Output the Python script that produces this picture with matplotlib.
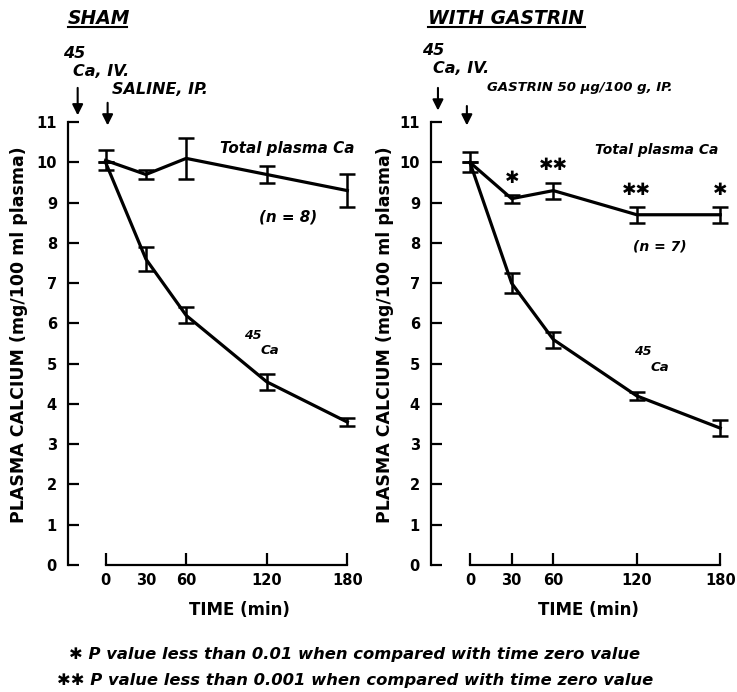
import matplotlib
matplotlib.use('Agg')
import matplotlib.pyplot as plt
from matplotlib.lines import Line2D

# time points (min)
times = [0, 30, 60, 120, 180]

# SHAM panel
sham_total = [10.05, 9.7, 10.1, 9.7, 9.3]
sham_total_err = [0.25, 0.1, 0.5, 0.2, 0.4]
sham_ca45 = [10.0, 7.6, 6.2, 4.55, 3.55]
sham_ca45_err = [0.0, 0.3, 0.2, 0.2, 0.1]

# WITH GASTRIN panel
gas_total = [10.0, 9.1, 9.3, 8.7, 8.7]
gas_total_err = [0.25, 0.1, 0.2, 0.2, 0.2]
gas_ca45 = [10.0, 7.0, 5.6, 4.2, 3.4]
gas_ca45_err = [0.0, 0.25, 0.2, 0.1, 0.2]
gas_stars = ['', '✱', '✱✱', '✱✱', '✱']

yticks = list(range(0, 12))
xtick_labels = ['0', '30', '60', '120', '180']

W, H = 737, 692
fig = plt.figure(figsize=(W / 100, H / 100), dpi=100)
BOLD = dict(fontweight='bold', family='DejaVu Sans')
ITB = dict(fontweight='bold', fontstyle='italic', family='DejaVu Sans')


def px_axes(x0, x1, y_top, y_bot):
    return fig.add_axes([x0 / W, 1 - y_bot / H, (x1 - x0) / W, (y_bot - y_top) / H])


def setup(ax, hide30):
    ax.set_xlim(-28, 182)
    ax.set_ylim(0, 11.6)
    for s in ['top', 'right']:
        ax.spines[s].set_visible(False)
    ax.spines['left'].set_bounds(0, 11)
    ax.spines['bottom'].set_bounds(0, 180)
    ax.spines['left'].set_linewidth(1.6)
    ax.spines['bottom'].set_linewidth(1.6)
    ax.set_yticks(yticks)
    ax.set_yticklabels([str(v) for v in yticks], **BOLD, fontsize=10.5)
    ax.set_xticks(times)
    ax.set_xticklabels(xtick_labels, **BOLD, fontsize=10.5)
    ax.tick_params(axis='y', direction='in', length=8, width=1.6, pad=8)
    ax.tick_params(axis='x', direction='in', length=9, width=1.6, pad=6)
    if hide30:
        ax.xaxis.get_major_ticks()[1].tick1line.set_visible(False)


def series(ax, y, err):
    ax.errorbar(times, y, yerr=err, color='black', lw=2.3, capsize=6,
                capthick=1.8, elinewidth=1.8, clip_on=False)


# left panel
ax1 = px_axes(68, 350, 98, 565)
setup(ax1, True)
series(ax1, sham_total, sham_total_err)
series(ax1, sham_ca45, sham_ca45_err)

# right panel
ax2 = px_axes(431, 723, 98, 565)
setup(ax2, False)
series(ax2, gas_total, gas_total_err)
series(ax2, gas_ca45, gas_ca45_err)
for t, v, e, s in zip(times, gas_total, gas_total_err, gas_stars):
    if s:
        ax2.text(t, v + e + 0.2, s, ha='center', va='bottom', fontsize=12.5, **BOLD)

for cx in [239, 588]:
    fig.text(cx / W, 1 - 610 / H, 'TIME (min)', ha='center', va='center', fontsize=12, **BOLD)

for lx in [19, 385]:
    fig.text(lx / W, 1 - 335 / H, 'PLASMA CALCIUM (mg/100 ml plasma)', rotation=90,
             ha='center', va='center', fontsize=12.5, **BOLD)

# panel titles with underline
for x0, x1, t in [(68, 127, 'SHAM'), (428, 585, 'WITH GASTRIN')]:
    fig.text(x0 / W, 1 - 18 / H, t, ha='left', va='center', fontsize=13.5, **ITB)
    fig.add_artist(Line2D([x0 / W, x1 / W], [1 - 27 / H, 1 - 27 / H], color='black', lw=1.5))


def arrow(ax, x, y0, y1):
    ax.annotate('', xy=(x, y1), xytext=(x, y0), annotation_clip=False,
                arrowprops=dict(arrowstyle='-|>', color='black', lw=1.5, mutation_scale=16))


# injection annotations, left
ax1.text(-32, 12.71, '45', fontsize=11.5, **ITB, va='center', ha='left')
ax1.text(-24.6, 12.27, 'Ca, IV.', fontsize=11.5, **ITB, va='center', ha='left')
arrow(ax1, -20.8, 11.92, 11.1)
ax1.text(4.5, 11.8, 'SALINE, IP.', fontsize=11.5, **ITB, va='center', ha='left')
arrow(ax1, 1.5, 11.55, 10.85)

# injection annotations, right
ax2.text(-34.6, 12.79, '45', fontsize=11.5, **ITB, va='center', ha='left')
ax2.text(-26.6, 12.34, 'Ca, IV.', fontsize=11.5, **ITB, va='center', ha='left')
arrow(ax2, -23, 11.92, 11.22)
ax2.text(12.2, 11.85, 'GASTRIN 50 μg/100 g, IP.', fontsize=9.5, **ITB, va='center', ha='left')
arrow(ax2, -2.2, 11.47, 10.85)

# curve labels
ax1.text(85, 10.35, 'Total plasma Ca', fontsize=10.9, **ITB, va='center', ha='left')
ax1.text(114, 8.65, '(n = 8)', fontsize=10.9, **ITB, va='center', ha='left')
ax1.text(103, 5.7, '45', fontsize=9, **ITB, va='center', ha='left')
ax1.text(115, 5.33, 'Ca', fontsize=9.5, **ITB, va='center', ha='left')

ax2.text(90, 10.3, 'Total plasma Ca', fontsize=10, **ITB, va='center', ha='left')
ax2.text(117, 7.9, '(n = 7)', fontsize=10, **ITB, va='center', ha='left')
ax2.text(118, 5.3, '45', fontsize=9, **ITB, va='center', ha='left')
ax2.text(130, 4.9, 'Ca', fontsize=9.5, **ITB, va='center', ha='left')

# footnotes
fig.text(355 / W, 1 - 655 / H, '✱ P value less than 0.01 when compared with time zero value',
         ha='center', va='center', fontsize=11.8, **ITB)
fig.text(355 / W, 1 - 681 / H, '✱✱ P value less than 0.001 when compared with time zero value',
         ha='center', va='center', fontsize=11.8, **ITB)

fig.savefig('out.png', dpi=100)
